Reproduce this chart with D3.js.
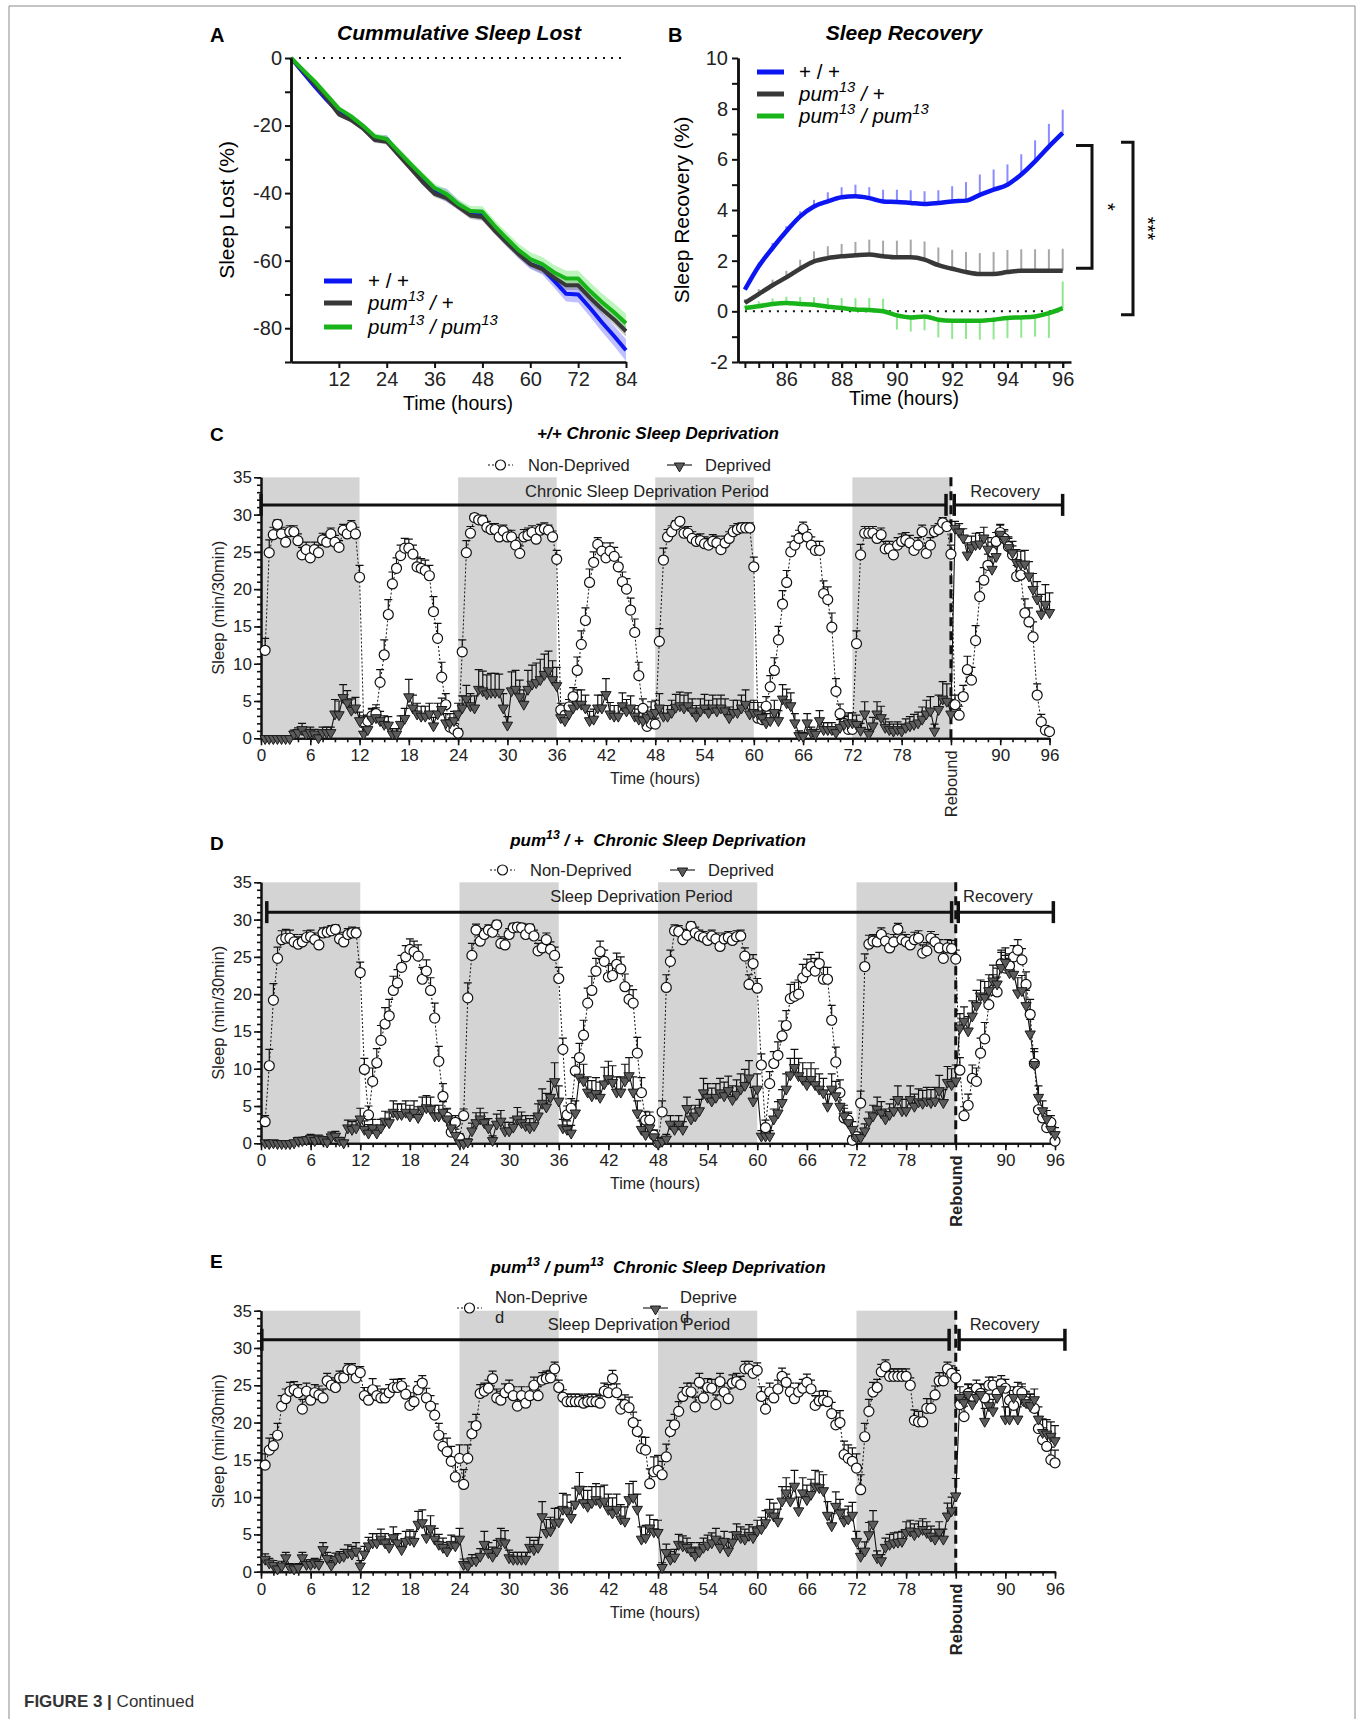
<!DOCTYPE html>
<html>
<head>
<meta charset="utf-8">
<script src="https://cdn.jsdelivr.net/npm/d3@7"></script>
<style>
  body { margin: 0; background: #fff; }
  svg { display: block; font-family: "Liberation Sans", Arial, sans-serif; }
</style>
</head>
<body>
<svg id="fig" width="1362" height="1719"></svg>
<script>
const font = "Liberation Sans, Arial, sans-serif";

// ---------- panel A: cumulative sleep lost (%) every 3 h ----------
const hoursA = d3.range(0, 85, 3);
const lostWT = [0,-4.3,-8.5,-12.5,-16.2,-18.0,-20.5,-23.8,-24.0,-28.3,-32.3,-36.2,-39.2,-40.6,-43.5,-46.0,-46.3,-50.5,-54.2,-57.8,-61.0,-62.3,-66.0,-69.8,-70.0,-74.0,-78.3,-82.3,-86.5];
const lostHet = [0,-3.8,-7.8,-12.0,-16.7,-18.3,-20.8,-24.3,-24.8,-28.8,-32.7,-36.7,-40.2,-41.5,-44.1,-46.6,-47.1,-51.0,-54.6,-58.0,-61.0,-62.5,-65.0,-67.3,-67.3,-71.0,-74.4,-77.4,-80.9];
const lostHom = [0,-3.5,-7.0,-11.0,-15.0,-17.2,-20.0,-23.2,-24.0,-27.7,-31.4,-35.0,-38.5,-40.3,-43.3,-45.3,-45.5,-49.6,-53.3,-56.8,-59.5,-61.0,-63.5,-65.3,-65.3,-69.0,-72.3,-75.3,-78.5];
const lostWTErr = [0,0.4,0.6,0.7,0.8,0.8,0.9,0.9,1.2,1.0,1.0,1.1,1.3,2.0,1.4,1.3,1.6,1.4,1.4,1.4,1.5,1.8,2.0,2.3,2.4,2.6,2.8,3.0,3.2];
const lostHetErr = [0,0.3,0.5,0.6,0.7,0.7,0.7,0.8,0.8,0.8,0.9,0.9,1.0,1.0,1.0,1.1,1.1,1.1,1.2,1.2,1.2,1.3,1.3,1.4,1.4,1.5,1.5,1.6,1.6];
const lostHomErr = [0,0.3,0.5,0.6,0.7,0.8,0.8,0.9,1.0,1.0,1.1,1.2,1.3,1.4,1.4,1.5,1.6,1.7,1.8,1.9,2.0,2.1,2.2,2.3,2.4,2.5,2.6,2.7,2.8];

// ---------- panel B: sleep recovery (%) every 0.5 h ----------
const hoursB = d3.range(169, 193).map(i => i / 2);
const recWT = [0.86,1.78,2.5,3.16,3.75,4.14,4.34,4.5,4.54,4.47,4.34,4.32,4.28,4.24,4.28,4.34,4.37,4.6,4.8,5.0,5.4,5.92,6.5,7.04];
const recWTErr = [0.1,0.15,0.2,0.2,0.2,0.26,0.36,0.4,0.46,0.43,0.46,0.48,0.5,0.5,0.5,0.6,0.73,0.8,0.8,0.8,0.8,0.83,0.9,0.92];
const recHet = [0.33,0.68,1.03,1.34,1.68,1.97,2.1,2.17,2.21,2.24,2.17,2.13,2.13,2.04,1.82,1.68,1.55,1.47,1.47,1.55,1.6,1.6,1.6,1.6];
const recHetErr = [0.15,0.2,0.22,0.26,0.36,0.4,0.47,0.49,0.53,0.59,0.62,0.66,0.7,0.72,0.7,0.75,0.79,0.83,0.87,0.87,0.85,0.85,0.85,0.87];
const recHom = [0.13,0.2,0.29,0.33,0.29,0.26,0.18,0.13,0.07,0.05,0.0,-0.16,-0.24,-0.2,-0.33,-0.37,-0.37,-0.37,-0.33,-0.26,-0.24,-0.2,-0.07,0.13];
const recHomErr = [0.1,0.2,0.22,0.25,0.28,0.3,0.35,0.4,0.45,0.48,0.5,0.56,0.56,0.55,0.7,0.72,0.72,0.75,0.78,0.8,0.8,0.8,0.98,1.05];

// ---------- panels C-E: sleep (min/30min), 0.5 .. 96 h ----------
const hoursHalf = d3.range(1, 193).map(i => i / 2);
const darkPeriods = [[0, 12], [24, 36], [48, 60], [72, 84]];

const cND = [
11.8,24.9,27.3,28.7,27.4,26.3,27.7,27.7,26.5,24.6,25.3,24.2,
25.3,24.9,26.6,26.3,27.4,26.3,25.6,27.9,27.4,28.4,27.4,21.6,
2.2,2.3,3.0,3.3,7.5,11.2,16.6,20.7,22.8,24.5,25.5,25.5,
24.7,23.0,22.8,22.5,21.8,17.0,13.4,8.2,4.5,1.5,1.2,0.7,
11.6,24.9,27.5,29.6,29.3,29.2,28.3,28.0,28.0,27.0,27.8,27.0,
27.0,25.9,24.8,27.0,27.2,27.6,26.7,27.9,28.1,27.9,27.0,24.0,
3.8,3.1,4.2,5.6,9.1,12.6,15.8,20.9,23.6,26.0,25.1,24.2,
25.1,24.4,23.0,21.0,20.0,17.2,14.2,8.4,4.0,1.6,2.0,1.9,
13.0,23.9,27.0,27.7,28.6,29.1,27.5,27.5,26.8,26.4,26.5,26.1,
25.9,26.4,26.2,25.3,26.2,26.8,27.7,28.0,28.2,28.2,28.2,23.0,
2.7,2.5,4.3,6.9,9.1,13.2,18.0,20.9,25.0,25.9,26.8,28.1,
27.0,25.9,25.2,25.2,19.4,18.6,14.9,6.3,3.3,2.0,1.2,1.2,
12.7,24.6,27.5,27.5,27.5,26.8,27.3,25.4,25.4,24.6,25.9,26.4,
26.6,26.2,25.2,25.9,27.7,24.8,25.9,27.7,28.0,28.9,28.4,24.7,
4.5,3.1,5.6,9.2,7.8,13.1,19.0,21.2,23.2,25.0,26.4,27.6,
26.8,25.7,24.6,21.7,21.9,16.8,15.6,13.6,5.8,2.2,1.1,0.9];
const cNDErr = [
1.6,1.7,1.0,0.6,0.9,1.0,0.8,0.8,0.9,1.0,1.0,1.0,
1.0,1.0,0.9,1.0,0.8,0.9,0.9,0.8,0.8,0.8,0.9,1.6,
0.8,0.8,1.0,1.2,1.7,2.0,2.0,1.6,1.4,1.4,1.3,1.2,
1.2,1.3,1.3,1.4,1.4,2.0,2.0,2.0,1.5,1.0,0.8,0.6,
1.6,1.6,0.9,0.5,0.6,0.7,0.8,0.8,0.8,0.9,0.8,0.9,
0.9,1.0,1.0,1.0,1.0,0.9,0.9,0.8,0.8,0.7,0.8,1.2,
0.9,0.9,1.0,1.2,1.8,1.8,1.7,1.8,1.4,0.9,1.1,1.1,
1.1,1.2,1.3,1.3,1.4,1.6,1.8,1.8,1.3,0.9,0.9,0.8,
1.7,1.6,1.0,0.8,0.6,0.5,0.8,0.9,0.9,0.9,0.9,0.9,
0.9,0.9,0.9,0.9,0.9,0.9,0.8,0.8,0.7,0.7,0.7,1.3,
0.9,1.0,1.3,1.5,1.7,1.8,1.8,1.6,1.3,1.2,1.1,0.9,
1.0,1.1,1.2,1.2,1.7,1.7,1.9,1.7,1.3,0.9,0.8,0.8,
1.7,1.4,0.9,0.9,0.9,1.0,0.9,1.0,1.0,1.1,1.0,1.0,
1.0,1.0,1.0,1.0,0.9,1.0,1.0,0.8,0.8,0.7,0.7,1.2,
1.3,1.2,1.5,1.8,1.7,2.0,2.0,1.7,1.5,1.3,1.2,1.0,
1.0,1.1,1.2,1.5,1.5,1.9,1.9,2.0,1.5,1.0,0.6,0.5];
const cDep = [
0.1,0.1,0.1,0.1,0.1,0.1,0.1,0.7,0.9,1.3,0.7,0.9,
0.7,0.2,0.9,0.9,0.9,3.4,3.3,5.6,4.9,3.9,4.2,2.5,
0.7,1.3,2.7,2.9,2.5,2.0,1.9,0.7,0.7,2.0,2.8,5.7,
4.2,3.4,3.1,3.1,3.4,1.8,3.4,4.0,2.2,2.2,2.5,3.4,
4.2,5.4,4.5,4.2,6.7,6.5,6.1,6.3,6.3,6.3,4.2,1.9,
6.5,6.7,5.7,4.7,6.7,7.4,7.6,8.0,8.7,9.2,8.0,7.2,
2.9,2.5,3.4,4.2,4.7,4.7,4.2,2.5,2.7,4.2,4.2,6.0,
3.4,3.1,3.1,4.5,3.8,4.2,3.1,2.7,2.5,2.9,3.4,3.6,
4.2,3.1,3.1,3.6,4.3,4.5,4.2,4.5,3.8,3.1,3.8,4.2,
3.6,4.2,3.8,4.2,3.8,2.9,3.6,3.6,4.2,4.7,3.4,3.6,
3.4,2.9,2.2,2.5,3.6,2.5,5.4,4.9,4.5,2.2,0.5,0.4,
2.2,0.9,0.7,2.5,1.3,1.3,1.3,0.9,1.6,2.0,2.2,2.2,
2.0,1.2,3.4,0.7,1.8,3.4,2.9,1.6,1.3,1.1,1.3,1.1,
1.6,1.8,2.0,2.2,2.7,3.4,3.8,1.1,4.0,5.4,5.1,3.4,
28.3,27.8,27.0,24.7,25.7,26.1,26.2,27.0,25.5,22.8,24.5,27.5,
26.8,25.7,25.0,23.7,23.5,23.5,21.9,20.1,18.8,16.8,18.1,17.0];
const cDepErr = [
0.1,0.1,0.1,0.1,0.1,0.1,0.1,0.4,0.5,0.7,0.5,0.6,
0.5,0.3,0.6,0.6,0.6,1.8,1.7,1.6,1.5,1.4,1.3,1.0,
0.8,1.0,1.2,1.2,1.1,1.0,1.0,0.6,0.6,1.0,1.2,2.2,
1.6,1.3,1.2,1.2,1.3,1.0,1.3,1.4,1.1,1.1,1.1,1.3,
1.5,1.7,1.5,1.5,2.5,2.5,2.4,2.4,2.4,2.3,1.8,1.0,
2.4,2.4,2.1,1.8,2.4,2.4,2.5,2.6,2.6,2.5,2.4,2.3,
1.2,1.1,1.3,1.6,1.8,1.8,1.6,1.1,1.2,1.6,1.6,2.0,
1.4,1.3,1.3,1.6,1.4,1.5,1.3,1.2,1.1,1.3,1.5,1.5,
1.8,1.3,1.3,1.5,1.6,1.7,1.6,1.6,1.5,1.3,1.5,1.7,
1.5,1.6,1.5,1.6,1.5,1.3,1.5,1.5,1.6,1.8,1.4,1.5,
1.4,1.3,1.1,1.2,1.5,1.2,1.8,1.7,1.6,1.1,0.5,0.4,
1.1,0.6,0.5,1.2,0.8,0.8,0.8,0.6,0.9,1.1,1.2,1.2,
1.1,0.8,1.5,0.5,1.0,1.5,1.4,1.0,0.9,0.8,0.9,0.8,
1.0,1.1,1.2,1.3,1.5,1.7,1.8,0.8,1.8,2.2,2.2,1.8,
0.8,1.0,1.1,1.5,1.4,1.4,1.4,1.3,1.4,1.6,1.6,1.2,
1.2,1.3,1.4,1.6,1.6,1.7,1.8,2.0,2.2,2.5,2.5,2.5];

const dND = [
2.9,10.4,19.2,24.8,27.3,27.5,27.5,27.0,26.7,27.0,27.6,27.7,
27.3,26.6,28.2,28.3,28.5,28.7,27.4,27.0,28.0,28.2,28.2,22.9,
9.9,3.8,8.3,10.8,13.8,16.0,17.1,20.5,21.5,23.6,25.0,26.0,
25.7,25.1,22.0,23.1,20.5,16.8,11.0,6.3,3.5,1.5,2.8,0.7,
3.7,19.5,25.2,28.6,27.1,28.0,28.6,28.3,29.3,26.8,26.6,28.0,
28.9,29.0,28.9,28.0,28.8,27.8,25.8,26.2,27.3,26.0,25.2,22.1,
12.6,3.8,4.7,9.7,11.5,14.5,18.8,20.5,23.1,25.7,24.4,22.3,
22.5,24.0,23.4,21.0,19.3,18.8,12.1,6.8,3.1,3.1,1.1,0.1,
4.2,20.9,24.4,28.5,28.4,27.3,27.9,29.1,28.2,27.8,27.6,27.2,
27.8,27.4,26.4,27.4,27.6,27.2,27.7,27.8,25.1,21.3,24.1,20.8,
10.5,2.1,8.0,10.7,11.8,14.4,15.8,19.4,19.7,20.0,22.2,23.0,
23.7,23.1,24.1,22.0,22.0,16.5,10.9,6.8,3.4,3.1,0.4,0.9,
5.4,23.7,26.7,27.1,27.0,28.0,27.1,26.2,27.0,28.7,27.3,27.0,
26.6,27.3,27.5,25.5,25.8,27.5,27.0,26.2,24.8,26.2,26.1,24.7,
9.8,3.7,5.1,8.7,8.3,12.1,14.0,18.6,20.5,20.3,24.1,23.5,
23.8,25.0,25.9,24.6,21.3,17.3,10.7,4.5,3.4,2.1,2.8,0.3];
const dNDErr = [
0.8,2.2,2.2,1.5,1.2,1.2,1.1,1.0,1.0,1.0,0.9,0.9,
0.9,1.0,0.7,0.7,0.7,0.6,0.9,0.9,0.8,0.8,0.7,1.4,
1.5,1.2,1.8,1.9,2.0,2.2,2.2,1.9,1.8,1.6,1.5,1.4,
1.4,1.5,1.6,1.5,1.7,2.0,2.0,1.7,1.2,0.8,0.9,0.6,
0.9,2.0,1.6,0.8,0.9,0.8,0.7,0.7,0.6,0.9,0.9,0.8,
0.6,0.6,0.6,0.7,0.6,0.8,1.0,1.0,0.9,1.0,1.1,1.5,
1.5,1.2,1.3,1.8,1.9,2.0,2.0,1.9,1.7,1.4,1.5,1.6,
1.6,1.5,1.6,1.7,1.8,1.8,2.1,2.0,1.2,1.1,0.7,0.3,
1.5,1.7,1.5,0.8,0.8,0.9,0.8,0.6,0.8,0.8,0.8,0.9,
0.8,0.8,0.9,0.8,0.8,0.9,0.8,0.8,1.1,1.3,1.2,1.3,
1.5,1.0,1.6,1.6,1.8,2.0,2.0,1.9,1.9,1.9,1.8,1.7,
1.6,1.7,1.5,1.6,1.6,2.0,2.0,1.7,1.3,1.1,0.6,0.6,
1.6,1.7,1.2,0.9,0.9,0.9,1.0,0.9,1.0,0.8,1.0,1.0,
1.0,1.0,1.0,1.1,1.1,0.9,1.0,1.1,1.2,1.1,1.1,1.2,
1.7,1.2,1.5,1.8,1.8,2.0,2.2,2.2,2.1,2.0,1.8,1.7,
1.6,1.5,1.4,1.5,1.7,2.0,2.0,1.7,1.3,1.0,0.9,0.4];
const dDep = [
0.2,0.1,0.2,0.1,0.1,0.1,0.1,0.2,0.5,0.5,0.6,0.8,
0.5,0.7,0.6,0.3,1.0,1.1,0.5,0.2,2.2,2.0,2.2,3.4,
2.0,1.5,2.2,1.5,2.2,3.1,2.9,4.3,4.0,4.0,4.3,3.8,
4.3,3.6,4.7,4.9,4.7,3.8,3.8,4.3,3.4,2.2,1.2,0.2,
0.1,0.3,1.8,2.9,3.4,2.9,2.2,0.5,2.7,3.1,1.8,1.8,
2.3,3.4,2.9,2.5,2.2,2.5,3.8,5.5,5.0,6.3,8.4,5.8,
2.2,2.0,1.5,4.2,9.0,8.5,7.0,6.5,6.8,6.3,8.1,8.8,
8.3,7.0,7.0,8.5,9.2,7.0,4.2,2.0,1.3,2.2,1.0,0.1,
0.4,0.7,2.7,2.0,2.7,2.0,4.8,3.4,3.8,4.5,6.9,6.3,
5.8,6.3,6.9,6.5,7.2,6.0,6.7,7.4,7.9,8.9,5.8,7.4,
1.1,1.1,1.1,3.4,4.2,5.6,7.4,9.3,10.3,9.2,8.7,8.0,
8.7,8.0,7.4,6.9,5.1,7.4,6.5,5.1,3.8,2.9,2.0,0.9,
0.9,1.8,3.1,3.8,4.7,4.2,3.4,4.0,4.5,6.0,4.5,4.5,
6.0,5.1,5.7,5.5,5.8,5.6,5.8,7.2,5.6,8.3,8.0,8.5,
15.6,16.5,15.2,17.2,18.6,19.9,19.7,20.6,21.9,21.5,23.7,24.4,
23.0,22.8,20.3,20.6,18.6,14.8,10.7,6.3,4.5,3.4,2.0,1.3];
const dDepErr = [
0.2,0.2,0.2,0.2,0.2,0.2,0.2,0.2,0.3,0.3,0.3,0.4,
0.3,0.4,0.3,0.3,0.5,0.5,0.3,0.2,0.9,0.9,0.9,1.3,
1.0,1.0,1.0,0.9,1.0,1.2,1.2,1.4,1.3,1.3,1.4,1.3,
1.4,1.3,1.5,1.5,1.5,1.3,1.3,1.3,1.2,1.0,0.7,0.2,
0.2,0.3,0.9,1.2,1.3,1.2,1.1,0.5,1.2,1.3,1.0,1.0,
1.1,1.4,1.3,1.2,1.1,1.2,1.5,1.8,1.7,2.0,2.4,1.9,
1.0,1.0,0.9,1.5,2.2,2.1,1.9,1.9,2.0,1.9,2.1,2.2,
2.1,1.9,1.9,2.1,2.3,1.9,1.5,1.0,0.8,1.0,0.7,0.2,
0.4,0.5,1.0,0.9,1.0,0.9,1.4,1.2,1.3,1.4,1.8,1.7,
1.6,1.7,1.8,1.7,1.8,1.7,1.8,1.9,2.0,2.2,1.7,1.9,
0.6,0.6,0.6,1.2,1.4,1.6,1.9,2.1,2.3,2.2,2.1,2.0,
2.1,2.0,1.9,1.8,1.5,1.9,1.8,1.5,1.3,1.1,0.9,0.5,
0.5,0.8,1.1,1.3,1.5,1.4,1.2,1.3,1.4,1.7,1.4,1.4,
1.7,1.5,1.6,1.6,1.7,1.6,1.7,1.9,1.6,2.0,2.0,2.0,
1.8,1.8,1.8,1.9,1.9,2.0,2.0,2.0,2.0,2.0,1.9,1.8,
1.8,1.8,1.9,1.9,1.9,1.8,1.6,1.4,1.2,1.0,0.9,0.8];

const eND = [
14.3,16.3,16.9,18.3,22.2,23.2,24.2,24.4,24.0,21.8,24.2,23.0,
24.0,23.7,23.3,25.6,25.0,24.7,26.0,26.0,27.1,27.1,26.0,26.7,
23.6,23.0,24.4,23.6,23.3,23.3,24.0,24.7,24.7,24.9,23.8,22.3,
22.8,24.4,25.3,23.3,22.2,21.0,18.3,16.8,16.1,14.8,12.7,15.2,
11.7,15.2,18.5,19.6,23.9,24.2,24.6,25.9,23.3,23.0,24.0,24.6,
23.6,22.2,23.6,22.6,23.6,25.0,23.6,25.7,25.9,26.0,27.2,24.7,
23.4,22.8,22.8,22.8,22.8,22.6,22.8,22.8,22.8,22.6,24.2,24.0,
25.9,24.0,21.8,22.4,22.0,20.0,18.8,16.5,16.3,11.8,13.4,13.6,
13.0,15.4,18.8,19.7,21.5,23.5,24.2,24.1,22.1,25.4,23.3,24.7,
24.6,22.4,25.5,24.1,23.2,25.3,25.5,25.1,27.2,27.2,26.6,27.0,
23.5,21.8,24.1,23.3,24.5,26.2,25.4,24.1,23.2,24.1,24.6,25.4,
24.5,22.3,22.9,23.0,22.8,21.2,19.7,20.0,15.7,15.2,14.8,13.9,
11.0,18.1,21.5,24.1,24.7,26.8,27.5,26.2,26.2,26.2,26.2,26.2,
25.0,20.3,20.1,20.1,21.9,21.9,23.7,25.6,25.6,27.2,26.6,26.0,
22.4,20.8,23.9,23.5,24.6,23.9,23.3,25.0,25.0,23.9,25.2,24.6,
23.0,22.3,24.2,24.0,22.8,22.5,21.9,19.2,17.7,16.8,15.0,14.6];
const eNDErr = [
1.5,1.6,1.5,1.6,1.4,1.3,1.2,1.1,1.1,1.3,1.1,1.2,
1.1,1.2,1.2,1.0,1.0,1.0,0.9,0.9,0.8,0.8,0.9,0.8,
1.1,1.2,1.5,1.3,1.2,1.2,1.1,1.1,1.1,1.0,1.1,1.2,
1.2,1.1,1.0,1.3,1.4,1.5,1.6,1.7,1.8,2.0,2.0,1.8,
2.0,1.8,1.6,1.5,1.2,1.1,1.1,1.0,1.2,1.2,1.2,1.1,
1.2,1.3,1.2,1.2,1.2,1.1,1.2,1.0,1.0,1.0,0.9,1.0,
1.0,1.0,1.0,1.0,1.0,1.0,1.0,1.0,1.0,1.0,1.1,1.1,
1.1,1.2,1.3,1.3,1.4,1.4,1.5,1.6,1.7,2.0,2.0,2.0,
1.8,1.7,1.5,1.4,1.3,1.2,1.1,1.2,1.3,1.2,1.3,1.2,
1.2,1.3,1.1,1.2,1.3,1.1,1.1,1.1,1.0,1.0,1.0,1.0,
1.3,1.4,1.2,1.3,1.2,1.1,1.1,1.2,1.3,1.2,1.2,1.1,
1.2,1.3,1.3,1.3,1.4,1.5,1.6,1.6,1.8,1.8,1.8,1.9,
2.0,1.8,1.6,1.3,1.1,1.0,0.9,1.0,1.0,1.0,1.0,1.0,
1.0,1.4,1.4,1.4,1.3,1.3,1.2,1.1,1.1,0.9,1.0,1.0,
1.3,1.4,1.2,1.2,1.1,1.2,1.2,1.1,1.1,1.2,1.1,1.2,
1.3,1.3,1.2,1.2,1.3,1.3,1.3,1.5,1.6,1.6,1.7,1.7];
const eDep = [
1.8,1.3,1.0,0.5,0.9,2.0,0.7,0.5,0.7,2.0,1.1,1.1,
1.3,1.1,3.1,1.9,1.0,1.8,2.0,2.2,2.7,2.5,2.9,0.9,
2.5,3.6,4.0,4.0,4.5,4.0,3.4,4.7,4.0,3.1,4.2,4.4,
4.2,6.5,6.7,4.7,5.9,4.5,3.8,3.4,2.9,3.8,3.6,4.5,
1.1,0.9,1.6,1.6,2.2,3.8,2.7,2.2,2.9,4.2,4.0,2.0,
1.8,1.8,1.8,1.8,3.4,3.1,3.4,7.5,5.4,5.6,6.7,6.8,
8.5,8.3,7.4,9.2,11.2,9.4,8.9,9.4,9.8,9.4,9.6,8.5,
8.0,8.5,7.2,6.9,9.8,10.1,8.5,4.5,4.7,6.0,5.5,5.4,
0.7,2.7,1.8,2.1,3.8,3.6,3.4,2.9,2.3,2.8,3.4,3.7,
4.0,4.5,3.4,4.2,2.9,4.1,5.1,4.7,4.5,5.0,4.7,5.6,
5.9,6.7,8.1,7.6,6.9,9.6,10.7,9.6,11.6,8.3,10.7,9.8,
10.5,11.6,11.4,11.0,7.7,6.3,8.9,8.0,6.9,7.2,7.7,4.2,
2.2,2.9,5.1,6.5,2.0,1.6,3.4,3.8,4.0,4.1,4.2,5.4,
5.6,5.1,5.5,5.8,5.4,4.9,4.5,5.4,4.5,7.6,8.3,10.3,
23.5,22.8,23.9,22.6,23.5,23.9,20.3,22.4,21.7,23.5,24.6,20.6,
20.6,23.5,20.6,23.5,22.8,22.4,23.2,20.6,18.8,18.6,18.3,17.7];
const eDepErr = [
0.6,0.5,0.5,0.4,0.5,0.6,0.4,0.4,0.4,0.6,0.5,0.5,
0.5,0.5,0.8,0.7,0.5,0.7,0.7,0.8,0.9,0.9,1.0,0.6,
0.9,1.0,1.1,1.1,1.2,1.1,1.0,1.3,1.1,1.0,1.2,1.2,
1.2,1.6,1.6,1.3,1.6,1.3,1.2,1.1,1.0,1.1,1.1,1.3,
0.6,0.5,0.7,0.7,0.9,1.6,1.2,1.1,1.3,1.6,1.5,0.9,
0.8,0.8,0.8,0.8,1.2,1.1,1.2,1.9,1.6,1.7,1.8,1.8,
2.0,2.0,1.9,2.0,2.1,2.0,2.0,2.0,2.0,2.0,2.0,1.9,
1.9,1.9,1.8,1.8,2.0,2.0,1.9,1.5,1.5,1.6,1.5,1.5,
0.5,1.0,0.9,0.9,1.2,1.2,1.1,1.0,1.0,1.1,1.1,1.2,
1.2,1.3,1.1,1.2,1.1,1.2,1.3,1.3,1.2,1.3,1.3,1.3,
1.4,1.5,1.6,1.6,1.5,1.8,1.9,1.8,2.0,1.7,1.9,1.8,
1.9,2.0,2.0,2.0,1.7,1.5,1.8,1.7,1.5,1.6,1.6,1.2,
0.9,1.1,1.5,1.7,0.8,0.7,1.1,1.2,1.2,1.2,1.2,1.3,
1.3,1.3,1.3,1.3,1.3,1.2,1.2,1.3,1.2,1.6,1.7,2.2,
1.3,1.2,1.3,1.2,1.3,1.3,1.6,1.4,1.4,1.3,1.2,1.5,
1.5,1.3,1.5,1.3,1.4,1.4,1.3,1.5,1.7,1.8,1.8,1.9];

const svg = d3.select("#fig");

// page frame and caption
svg.append("path").attr("d", "M9,1719V6H1355V1719").attr("fill", "none").attr("stroke", "#8a8a8a").attr("stroke-width", 1);
const cap = svg.append("text").attr("x", 24).attr("y", 1707).attr("font-size", 17).attr("fill", "#333");
cap.append("tspan").attr("font-weight", 700).text("FIGURE 3 | ");
cap.append("tspan").text("Continued");

// writes text with superscripts: parts = [[string, isSup], ...]
function richText(el, parts, fs) {
  let up = 0;
  parts.forEach(([s, sup]) => {
    const target = sup ? -Math.round(fs * 0.42) : 0;
    el.append("tspan").attr("dy", target - up).attr("font-size", sup ? fs * 0.72 : fs).text(s);
    up = target;
  });
}

function styleAxis(g, fs, sw) {
  g.attr("font-family", font).attr("font-size", fs);
  g.select(".domain").attr("stroke", "#111").attr("stroke-width", sw);
  g.selectAll(".tick line").attr("stroke", "#111").attr("stroke-width", sw * 0.8);
  g.selectAll(".tick text").attr("fill", "#222");
}

const plain = d => String(d); // keep the hyphen-minus of the original labels

const genotypes = [
  [["+ / +", false]],
  [["pum", false], ["13", true], [" / +", false]],
  [["pum", false], ["13", true], [" / pum", false], ["13", true]]
];

// ================= Panel A =================
{
  const x = d3.scaleLinear().domain([0, 84]).range([291, 626]);
  const y = d3.scaleLinear().domain([-90, 0]).range([362, 58]);
  const g = svg.append("g");
  const series = [
    { v: lostWT, e: lostWTErr, col: "#0b16f2", band: "rgba(90,90,255,0.38)" },
    { v: lostHet, e: lostHetErr, col: "#383838", band: "rgba(110,110,110,0.38)" },
    { v: lostHom, e: lostHomErr, col: "#19b419", band: "rgba(110,230,110,0.45)" }
  ];

  g.append("line").attr("x1", x(0)).attr("x2", x(84)).attr("y1", y(0)).attr("y2", y(0))
    .attr("stroke", "#111").attr("stroke-width", 2).attr("stroke-dasharray", "2,6");

  series.forEach(s => {
    const pts = hoursA.map((h, i) => ({ h, v: s.v[i], e: s.e[i] }));
    g.append("path").datum(pts)
      .attr("d", d3.area().x(d => x(d.h)).y0(d => y(d.v - d.e)).y1(d => y(d.v + d.e)))
      .attr("fill", s.band);
  });
  series.forEach(s => {
    const pts = hoursA.map((h, i) => ({ h, v: s.v[i] }));
    g.append("path").datum(pts)
      .attr("d", d3.line().x(d => x(d.h)).y(d => y(d.v)))
      .attr("fill", "none").attr("stroke", s.col).attr("stroke-width", 4).attr("stroke-linejoin", "round");
  });

  const yMinor = g.append("g").attr("transform", "translate(291,0)")
    .call(d3.axisLeft(y).tickValues([-90, -70, -50, -30, -10]).tickSize(6).tickFormat("").tickSizeOuter(0));
  styleAxis(yMinor, 20, 2.5);
  const yAx = g.append("g").attr("transform", "translate(291,0)")
    .call(d3.axisLeft(y).tickValues([-80, -60, -40, -20, 0]).tickSize(6).tickPadding(3).tickFormat(plain).tickSizeOuter(0));
  styleAxis(yAx, 20, 2.5);
  const xAx = g.append("g").attr("transform", "translate(0,362)")
    .call(d3.axisBottom(x).tickValues([12, 24, 36, 48, 60, 72, 84]).tickSize(6).tickPadding(4).tickSizeOuter(0));
  styleAxis(xAx, 20, 2.5);

  g.append("text").attr("x", 210).attr("y", 42).attr("font-size", 20).attr("font-weight", 700).text("A");
  g.append("text").attr("x", 459).attr("y", 40).attr("text-anchor", "middle").attr("font-size", 21)
    .attr("font-weight", 700).attr("font-style", "italic").text("Cummulative Sleep Lost");
  g.append("text").attr("x", 458).attr("y", 410).attr("text-anchor", "middle").attr("font-size", 19.5).text("Time (hours)");
  g.append("text").attr("transform", "translate(234,210) rotate(-90)").attr("text-anchor", "middle")
    .attr("font-size", 21).text("Sleep Lost (%)");

  const legY = [281, 303, 327];
  series.forEach((s, i) => {
    g.append("line").attr("x1", 324).attr("x2", 352).attr("y1", legY[i]).attr("y2", legY[i])
      .attr("stroke", s.col).attr("stroke-width", 5);
    const t = g.append("text").attr("x", 368).attr("y", legY[i] + 7).attr("font-size", 20.5)
      .attr("font-style", i ? "italic" : "normal");
    richText(t, genotypes[i], 20.5);
  });
}

// ================= Panel B =================
{
  const x = d3.scaleLinear().domain([84.25, 96.3]).range([738, 1071]);
  const y = d3.scaleLinear().domain([-2, 10]).range([362, 58]);
  const g = svg.append("g");
  const series = [
    { v: recWT, e: recWTErr, col: "#0b16f2", light: "#8a8cff" },
    { v: recHet, e: recHetErr, col: "#383838", light: "#a8a8a8" },
    { v: recHom, e: recHomErr, col: "#19b419", light: "#8fe88f" }
  ];

  g.append("line").attr("x1", x(84.5)).attr("x2", x(96)).attr("y1", y(0)).attr("y2", y(0))
    .attr("stroke", "#111").attr("stroke-width", 2).attr("stroke-dasharray", "2,6");

  series.forEach(s => {
    const pts = hoursB.map((h, i) => ({ h, v: s.v[i], e: s.e[i] }));
    g.append("g").selectAll("line").data(pts).join("line")
      .attr("x1", d => x(d.h)).attr("x2", d => x(d.h))
      .attr("y1", d => y(d.v)).attr("y2", d => y(d.v + (d.v < 0 ? -d.e : d.e)))
      .attr("stroke", s.light).attr("stroke-width", 2);
    g.append("path").datum(pts)
      .attr("d", d3.line().curve(d3.curveMonotoneX).x(d => x(d.h)).y(d => y(d.v)))
      .attr("fill", "none").attr("stroke", s.col).attr("stroke-width", 4.5).attr("stroke-linejoin", "round");
  });

  const yMinor = g.append("g").attr("transform", "translate(738,0)")
    .call(d3.axisLeft(y).tickValues([-1, 1, 3, 5, 7, 9]).tickSize(6).tickFormat("").tickSizeOuter(0));
  styleAxis(yMinor, 20, 2.5);
  const yAx = g.append("g").attr("transform", "translate(738,0)")
    .call(d3.axisLeft(y).tickValues([-2, 0, 2, 4, 6, 8, 10]).tickSize(6).tickPadding(4).tickFormat(plain).tickSizeOuter(0));
  styleAxis(yAx, 20, 2.5);
  const xMinor = g.append("g").attr("transform", "translate(0,362)")
    .call(d3.axisBottom(x).tickValues(hoursB).tickSize(6).tickFormat("").tickSizeOuter(0));
  styleAxis(xMinor, 20, 2.5);
  const xAx = g.append("g").attr("transform", "translate(0,362)")
    .call(d3.axisBottom(x).tickValues([86, 88, 90, 92, 94, 96]).tickSize(6).tickPadding(4).tickSizeOuter(0));
  styleAxis(xAx, 20, 2.5);
  xAx.select(".domain").remove();

  g.append("text").attr("x", 668).attr("y", 42).attr("font-size", 20).attr("font-weight", 700).text("B");
  g.append("text").attr("x", 904).attr("y", 40).attr("text-anchor", "middle").attr("font-size", 21)
    .attr("font-weight", 700).attr("font-style", "italic").text("Sleep Recovery");
  g.append("text").attr("x", 904).attr("y", 405).attr("text-anchor", "middle").attr("font-size", 19.5).text("Time (hours)");
  g.append("text").attr("transform", "translate(689,210) rotate(-90)").attr("text-anchor", "middle")
    .attr("font-size", 21).text("Sleep Recovery (%)");

  const legY = [72, 94, 116];
  series.forEach((s, i) => {
    g.append("line").attr("x1", 757).attr("x2", 784).attr("y1", legY[i]).attr("y2", legY[i])
      .attr("stroke", s.col).attr("stroke-width", 5);
    const t = g.append("text").attr("x", 799).attr("y", legY[i] + 7).attr("font-size", 20.5)
      .attr("font-style", i ? "italic" : "normal");
    richText(t, genotypes[i], 20.5);
  });

  // significance brackets
  const brackets = [
    { x0: 1076, x1: 1092, top: 6.55, bottom: 1.7, label: "*", lx: 1101 },
    { x0: 1121, x1: 1133, top: 6.67, bottom: -0.13, label: "***", lx: 1141 }
  ];
  brackets.forEach(b => {
    g.append("path").attr("d", `M${b.x0},${y(b.top)}H${b.x1}V${y(b.bottom)}H${b.x0}`)
      .attr("fill", "none").attr("stroke", "#111").attr("stroke-width", 3);
    g.append("text").attr("transform", `translate(${b.lx},${(y(b.top) + y(b.bottom)) / 2}) rotate(90)`)
      .attr("text-anchor", "middle").attr("font-size", 20).text(b.label);
  });
}

// ================= Panels C-E =================
function chronicPanel(p) {
  const x = d3.scaleLinear().domain([0, 96]).range([261, p.x96]);
  const y = d3.scaleLinear().domain([0, 35]).range([p.y0, p.y35]);
  const g = svg.append("g");

  darkPeriods.forEach(([a, b]) => {
    g.append("rect").attr("x", x(a)).attr("y", y(35)).attr("width", x(b) - x(a))
      .attr("height", y(0) - y(35)).attr("fill", "#d4d4d4");
  });

  // deprivation / recovery bars
  const by = y(p.bar.y);
  const hbar = (a, b) => g.append("line").attr("x1", x(a)).attr("x2", x(b)).attr("y1", by).attr("y2", by)
    .attr("stroke", "#111").attr("stroke-width", 3);
  const vcap = c => g.append("line").attr("x1", x(c)).attr("x2", x(c)).attr("y1", by - 11).attr("y2", by + 11)
    .attr("stroke", "#111").attr("stroke-width", 3.5);
  hbar(p.bar.start, p.bar.end); vcap(p.bar.start); vcap(p.bar.end);
  hbar(p.bar.recStart, p.bar.recEnd); vcap(p.bar.recStart); vcap(p.bar.recEnd);
  g.append("text").attr("x", x(p.barLabelAt)).attr("y", y(32.4)).attr("text-anchor", "middle")
    .attr("font-size", 16.5).attr("fill", "#222").text(p.barLabel);
  g.append("text").attr("x", x(p.recLabelAt)).attr("y", y(32.4)).attr("text-anchor", "middle")
    .attr("font-size", 16.5).attr("fill", "#222").text("Recovery");

  // rebound marker
  g.append("line").attr("x1", x(84)).attr("x2", x(84)).attr("y1", y(35)).attr("y2", y(0))
    .attr("stroke", "#111").attr("stroke-width", 3).attr("stroke-dasharray", "9,5");

  // axes
  const yMinor = g.append("g").attr("transform", "translate(261,0)")
    .call(d3.axisLeft(y).tickValues(d3.range(0, 36)).tickSize(4).tickFormat("").tickSizeOuter(0));
  styleAxis(yMinor, 17, 2);
  const yAx = g.append("g").attr("transform", "translate(261,0)")
    .call(d3.axisLeft(y).tickValues(d3.range(0, 36, 5)).tickSize(7).tickPadding(2).tickSizeOuter(0));
  styleAxis(yAx, 17, 2);
  const xMinor = g.append("g").attr("transform", `translate(0,${p.y0})`)
    .call(d3.axisBottom(x).tickValues(d3.range(0, 97, 1.5)).tickSize(4).tickFormat("").tickSizeOuter(0));
  styleAxis(xMinor, 17, 2);
  const xAx = g.append("g").attr("transform", `translate(0,${p.y0})`)
    .call(d3.axisBottom(x).tickValues(d3.range(0, 97, 6)).tickSize(7).tickPadding(4)
      .tickFormat(d => d === 84 ? "" : d).tickSizeOuter(0));
  styleAxis(xAx, 17, 2);

  g.append("text").attr("transform", `translate(${x(84) + 6},${p.y0 + 12}) rotate(-90)`)
    .attr("text-anchor", "end").attr("font-size", 16.5).attr("font-weight", p.reboundBold ? 700 : 400)
    .attr("fill", "#222").text("Rebound");
  g.append("text").attr("x", 655).attr("y", p.y0 + 46).attr("text-anchor", "middle")
    .attr("font-size", 16).attr("fill", "#222").text("Time (hours)");
  g.append("text").attr("transform", `translate(224,${(p.y0 + p.y35) / 2}) rotate(-90)`)
    .attr("text-anchor", "middle").attr("font-size", 16.5).attr("fill", "#222").text("Sleep (min/30min)");

  // data
  const nd = hoursHalf.map((h, i) => ({ h, v: p.nd[i], e: p.ndErr[i] }));
  const dep = hoursHalf.map((h, i) => ({ h, v: p.dep[i], e: p.depErr[i] }));
  const line = d3.line().x(d => x(d.h)).y(d => y(d.v));
  g.append("path").datum(nd).attr("d", line).attr("fill", "none").attr("stroke", "#111")
    .attr("stroke-width", 1).attr("stroke-dasharray", "2,2");
  g.append("path").datum(dep).attr("d", line).attr("fill", "none").attr("stroke", "#111").attr("stroke-width", 1.1);

  const errPath = d => `M${x(d.h)},${y(d.v)}V${y(d.v + d.e)}M${x(d.h) - 4},${y(d.v + d.e)}H${x(d.h) + 4}`;
  g.append("g").selectAll("path").data(nd.concat(dep)).join("path").attr("d", errPath)
    .attr("fill", "none").attr("stroke", "#111").attr("stroke-width", 1.2);

  g.append("g").selectAll("circle").data(nd).join("circle")
    .attr("cx", d => x(d.h)).attr("cy", d => y(d.v)).attr("r", 5)
    .attr("fill", "#fff").attr("stroke", "#111").attr("stroke-width", 1.2);
  const tri = d3.symbol(d3.symbolTriangle, 46);
  g.append("g").selectAll("path").data(dep).join("path")
    .attr("d", tri).attr("transform", d => `translate(${x(d.h)},${y(d.v) + 1}) rotate(180)`)
    .attr("fill", "#5c5c5c").attr("stroke", "#1a1a1a").attr("stroke-width", 1);

  // legend
  const L = p.legend;
  g.append("line").attr("x1", L.ndSym).attr("x2", L.ndSym + 25).attr("y1", L.symY).attr("y2", L.symY)
    .attr("stroke", "#111").attr("stroke-width", 1).attr("stroke-dasharray", "2,2");
  g.append("circle").attr("cx", L.ndSym + 12.5).attr("cy", L.symY).attr("r", 5)
    .attr("fill", "#fff").attr("stroke", "#111").attr("stroke-width", 1.2);
  g.append("line").attr("x1", L.depSym).attr("x2", L.depSym + 25).attr("y1", L.symY).attr("y2", L.symY)
    .attr("stroke", "#111").attr("stroke-width", 1.1);
  g.append("path").attr("d", tri).attr("transform", `translate(${L.depSym + 12.5},${L.symY + 1}) rotate(180)`)
    .attr("fill", "#5c5c5c").attr("stroke", "#1a1a1a");
  L.ndText.forEach((s, i) => g.append("text").attr("x", L.ndX).attr("y", L.textY + i * 20)
    .attr("font-size", 16.5).attr("fill", "#222").text(s));
  L.depText.forEach((s, i) => g.append("text").attr("x", L.depX).attr("y", L.textY + i * 20)
    .attr("font-size", 16.5).attr("fill", "#222").text(s));

  // titles
  g.append("text").attr("x", 210).attr("y", p.letterY).attr("font-size", 19).attr("font-weight", 700).text(p.letter);
  const t = g.append("text").attr("x", 658).attr("y", p.titleY).attr("text-anchor", "middle")
    .attr("font-weight", 700).attr("font-style", "italic").attr("font-size", 17);
  richText(t, p.title, 17);
}

chronicPanel({
  letter: "C", letterY: 441, titleY: 439,
  title: [["+/+ Chronic Sleep Deprivation", false]],
  y0: 738.3, y35: 477.3, x96: 1049.5,
  nd: cND, ndErr: cNDErr, dep: cDep, depErr: cDepErr,
  bar: { y: 31.3, start: 0, end: 83.4, recStart: 84.4, recEnd: 97.6 },
  barLabel: "Chronic Sleep Deprivation Period", barLabelAt: 47, recLabelAt: 90.6,
  reboundBold: false,
  legend: { symY: 465, textY: 471, ndSym: 488, ndX: 528, depSym: 667, depX: 705,
            ndText: ["Non-Deprived"], depText: ["Deprived"] }
});

chronicPanel({
  letter: "D", letterY: 850, titleY: 846,
  title: [["pum", false], ["13", true], [" / +\u00a0\u00a0Chronic Sleep Deprivation", false]],
  y0: 1143.3, y35: 882.3, x96: 1055,
  nd: dND, ndErr: dNDErr, dep: dDep, depErr: dDepErr,
  bar: { y: 31.0, start: 0.7, end: 83.5, recStart: 84.3, recEnd: 95.8 },
  barLabel: "Sleep Deprivation Period", barLabelAt: 46, recLabelAt: 89.1,
  reboundBold: true,
  legend: { symY: 870, textY: 876, ndSym: 490, ndX: 530, depSym: 670, depX: 708,
            ndText: ["Non-Deprived"], depText: ["Deprived"] }
});

chronicPanel({
  letter: "E", letterY: 1268, titleY: 1273,
  title: [["pum", false], ["13", true], [" / pum", false], ["13", true], ["\u00a0\u00a0Chronic Sleep Deprivation", false]],
  y0: 1571.7, y35: 1310.7, x96: 1055,
  nd: eND, ndErr: eNDErr, dep: eDep, depErr: eDepErr,
  bar: { y: 31.1, start: 0.1, end: 83.2, recStart: 84.4, recEnd: 97.2 },
  barLabel: "Sleep Deprivation Period", barLabelAt: 45.7, recLabelAt: 89.9,
  reboundBold: true,
  legend: { symY: 1308, textY: 1303, ndSym: 457, ndX: 495, depSym: 643, depX: 680,
            ndText: ["Non-Deprive", "d"], depText: ["Deprive", "d"] }
});
</script>
</body>
</html>
